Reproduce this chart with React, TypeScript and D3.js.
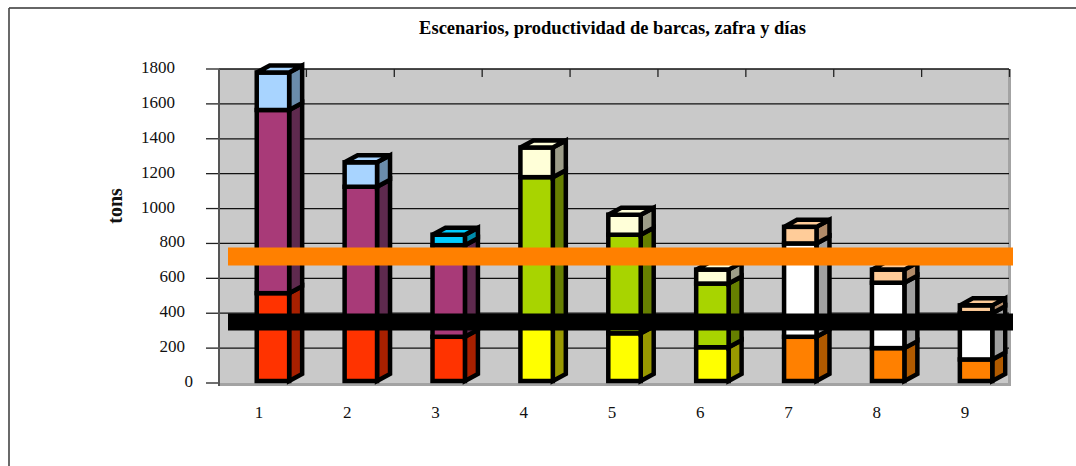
import React from "react";
import * as d3 from "d3";

// Tonnage per scenario, stacked from the base upward
const categories = ["1", "2", "3", "4", "5", "6", "7", "8", "9"];
const lowerTons = [515, 335, 265, 320, 285, 205, 265, 200, 135];
const middleTons = [1050, 790, 525, 860, 565, 365, 535, 375, 265];
const upperTons = [215, 140, 60, 170, 115, 80, 95, 75, 45];
const yTicks = [0, 200, 400, 600, 800, 1000, 1200, 1400, 1600, 1800];
const orangeLevel = 725;
const blackLevel = 350;

const title = "Escenarios, productividad de barcas, zafra y días";
const yTitle = "tons";

// Front and side colours of each stacked layer, by scenario
const lowerFront = ["#ff3300", "#ff3300", "#ff3300", "#ffff00", "#ffff00", "#ffff00", "#ff8000", "#ff8000", "#ff8000"];
const lowerSide = ["#a82000", "#a82000", "#a82000", "#999900", "#999900", "#999900", "#b05a00", "#b05a00", "#b05a00"];
const middleFront = ["#a83a78", "#a83a78", "#a83a78", "#a8d400", "#a8d400", "#a8d400", "#ffffff", "#ffffff", "#ffffff"];
const middleSide = ["#5e2a4e", "#5e2a4e", "#5e2a4e", "#667f00", "#667f00", "#667f00", "#a0a0a0", "#a0a0a0", "#a0a0a0"];
const upperFront = ["#a8d4ff", "#a8d4ff", "#00ccff", "#ffffd8", "#ffffd8", "#ffffd8", "#ffcc99", "#ffcc99", "#ffcc99"];
const upperSide = ["#6a8cab", "#6a8cab", "#008cab", "#9c9c88", "#9c9c88", "#9c9c88", "#b08a68", "#b08a68", "#b08a68"];

const WIDTH = 1076;
const HEIGHT = 466;
const SERIF = "'Liberation Serif', 'Times New Roman', serif";
const WALL = { left: 219, right: 1011 };
const DEPTH_X = 13;
const DEPTH_Y = 7;
const EDGE = 4.5;

type Row = { key: string; lower: number; middle: number; upper: number };

const rows: Row[] = categories.map((key, i) => ({
  key,
  lower: lowerTons[i],
  middle: middleTons[i],
  upper: upperTons[i],
}));

const layers = d3.stack<Row>().keys(["lower", "middle", "upper"])(rows);
const fronts = [lowerFront, middleFront, upperFront];
const sides = [lowerSide, middleSide, upperSide];

const y = d3.scaleLinear().domain([0, 1800]).range([383, 69]);
const x = d3.scaleBand<string>().domain(categories).range([229, 1020]).paddingInner(0.58).paddingOuter(0.29);
const xLabel = d3.scalePoint<string>().domain(categories).range([259, 965]);

const pts = (p: number[][]) => p.map((q) => q.join(",")).join(" ");

function tickAnchor(t: number) {
  if (t === 0) return 193;
  return t >= 1000 ? 175 : 185;
}

export default function App() {
  const bw = x.bandwidth();
  return (
    <svg
      width={WIDTH}
      height={HEIGHT}
      viewBox={`0 0 ${WIDTH} ${HEIGHT}`}
      style={{ position: "absolute", left: 0, top: 0, background: "#fff" }}
    >
      {/* outer frame: only the top and left edges are present */}
      <line x1={9} y1={8} x2={WIDTH} y2={8} stroke="#333" strokeWidth={1.6} />
      <line x1={9} y1={8} x2={9} y2={HEIGHT} stroke="#444" strokeWidth={1.6} />

      <text x={612.5} y={34} textAnchor="middle" fontFamily={SERIF} fontWeight="bold" fontSize={18.5} fill="#000">
        {title}
      </text>

      {/* back wall and floor */}
      <rect x={WALL.left} y={y(1800)} width={WALL.right - WALL.left} height={y(0) - y(1800) + 3} fill="#c9c9c9" />
      <rect x={WALL.right - 3} y={y(1800)} width={3} height={y(0) - y(1800) + 3} fill="#a3a3a3" />
      <rect x={WALL.left} y={y(0)} width={WALL.right - WALL.left} height={3} fill="#a3a3a3" />

      {yTicks.map((t) => (
        <g key={t}>
          {t > 0 && <line x1={WALL.left} x2={WALL.right - 2} y1={y(t)} y2={y(t)} stroke="#111" strokeWidth={1.3} />}
          <line x1={206} x2={WALL.left} y1={y(t)} y2={y(t)} stroke="#222" strokeWidth={1.3} />
          <text x={tickAnchor(t)} y={y(t) + 4} textAnchor="end" fontFamily={SERIF} fontSize={17} fill="#111">
            {t}
          </text>
        </g>
      ))}
      <line x1={WALL.left} x2={WALL.left} y1={y(1800)} y2={y(0) + 3} stroke="#555" strokeWidth={2} />

      {categories.map((c) => {
        const tx = (x(c) as number) + bw + 15;
        return <line key={c} x1={tx} x2={tx} y1={y(1800)} y2={y(1800) + 8} stroke="#222" strokeWidth={1.3} />;
      })}

      {/* stacked boxes, drawn from the base of each column to its cap */}
      {categories.map((c, i) => {
        const x0 = (x(c) as number) + EDGE / 2;
        const x1 = x0 + bw - EDGE;
        const yOf = (v: number) => Math.min(y(v), y(0) - 2);
        return (
          <g key={c} stroke="#000" strokeWidth={EDGE} strokeLinejoin="miter" strokeMiterlimit={2}>
            {layers.map((layer, li) => {
              const [v0, v1] = layer[i];
              const yB = yOf(v0);
              const yT = yOf(v1);
              return (
                <g key={layer.key}>
                  <polygon
                    points={pts([
                      [x1, yB],
                      [x1 + DEPTH_X, yB - DEPTH_Y],
                      [x1 + DEPTH_X, yT - DEPTH_Y],
                      [x1, yT],
                    ])}
                    fill={sides[li][i]}
                  />
                  <rect x={x0} y={yT} width={x1 - x0} height={yB - yT} fill={fronts[li][i]} />
                  {li === layers.length - 1 && (
                    <polygon
                      points={pts([
                        [x0, yT],
                        [x0 + DEPTH_X, yT - DEPTH_Y],
                        [x1 + DEPTH_X, yT - DEPTH_Y],
                        [x1, yT],
                      ])}
                      fill={fronts[li][i]}
                    />
                  )}
                </g>
              );
            })}
          </g>
        );
      })}

      {/* reference levels laid over the columns */}
      <line x1={228} x2={1013} y1={y(orangeLevel)} y2={y(orangeLevel)} stroke="#ff8000" strokeWidth={18} />
      <line x1={228} x2={1013} y1={y(blackLevel)} y2={y(blackLevel)} stroke="#000" strokeWidth={17} />

      {categories.map((c) => (
        <text
          key={c}
          x={xLabel(c)}
          y={418}
          textAnchor="middle"
          fontFamily={SERIF}
          fontSize={17}
          fill="#111"
        >
          {c}
        </text>
      ))}

      <text
        transform="translate(122,206) rotate(-90)"
        textAnchor="middle"
        fontFamily={SERIF}
        fontWeight="bold"
        fontSize={20}
        fill="#111"
      >
        {yTitle}
      </text>
    </svg>
  );
}
